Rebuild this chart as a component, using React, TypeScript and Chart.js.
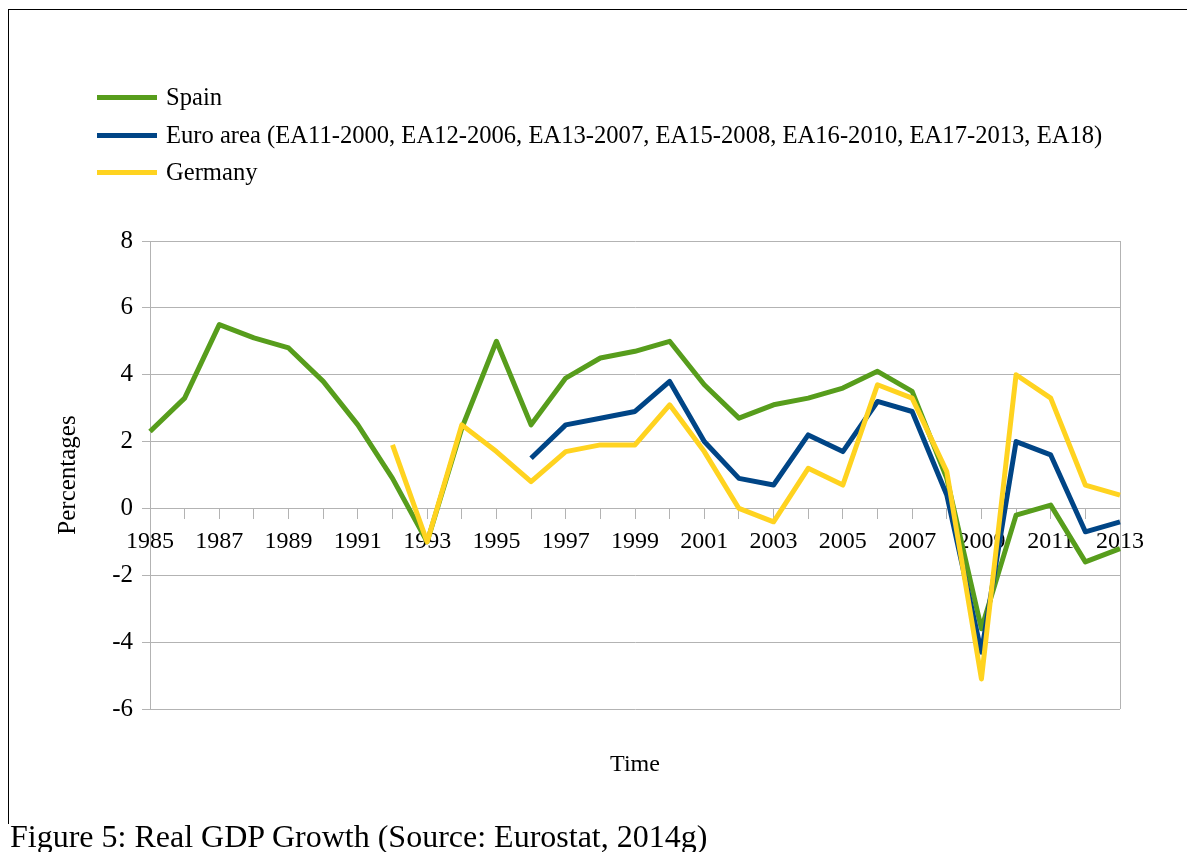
import React, { useEffect, useRef } from "react";
import { Chart, registerables } from "chart.js";

Chart.register(...registerables);

const years: string[] = [
  "1985", "1986", "1987", "1988", "1989", "1990", "1991", "1992", "1993", "1994",
  "1995", "1996", "1997", "1998", "1999", "2000", "2001", "2002", "2003", "2004",
  "2005", "2006", "2007", "2008", "2009", "2010", "2011", "2012", "2013",
];

const spain: (number | null)[] = [
  2.3, 3.3, 5.5, 5.1, 4.8, 3.8, 2.5, 0.9, -1.0, 2.4,
  5.0, 2.5, 3.9, 4.5, 4.7, 5.0, 3.7, 2.7, 3.1, 3.3,
  3.6, 4.1, 3.5, 0.9, -3.6, -0.2, 0.1, -1.6, -1.2,
];

const euroArea: (number | null)[] = [
  null, null, null, null, null, null, null, null, null, null,
  null, 1.5, 2.5, 2.7, 2.9, 3.8, 2.0, 0.9, 0.7, 2.2,
  1.7, 3.2, 2.9, 0.4, -4.3, 2.0, 1.6, -0.7, -0.4,
];

const germany: (number | null)[] = [
  null, null, null, null, null, null, null, 1.9, -1.0, 2.5,
  1.7, 0.8, 1.7, 1.9, 1.9, 3.1, 1.7, 0.0, -0.4, 1.2,
  0.7, 3.7, 3.3, 1.1, -5.1, 4.0, 3.3, 0.7, 0.4,
];

const seriesNames: string[] = [
  "Spain",
  "Euro area (EA11-2000, EA12-2006, EA13-2007, EA15-2008, EA16-2010, EA17-2013, EA18)",
  "Germany",
];
const seriesColors: string[] = ["#579d1c", "#004586", "#ffd320"];

const yTitle = "Percentages";
const xTitle = "Time";
const caption = "Figure 5: Real GDP Growth (Source: Eurostat, 2014g)";

const FONT = "'Liberation Serif', 'Times New Roman', serif";
const GRID = "#b3b3b3";

export default function App() {
  const canvasRef = useRef<HTMLCanvasElement | null>(null);

  useEffect(() => {
    if (!canvasRef.current) return;
    const lastIndex = years.length - 1;
    const chart = new Chart(canvasRef.current, {
      type: "line",
      data: {
        labels: years,
        datasets: [
          { label: seriesNames[0], data: spain, borderColor: seriesColors[0], backgroundColor: seriesColors[0], order: 2 },
          { label: seriesNames[1], data: euroArea, borderColor: seriesColors[1], backgroundColor: seriesColors[1], order: 1 },
          { label: seriesNames[2], data: germany, borderColor: seriesColors[2], backgroundColor: seriesColors[2], order: 0 },
        ].map((d) => ({
          ...d,
          borderWidth: 5,
          pointRadius: 0,
          pointHoverRadius: 0,
          tension: 0,
          spanGaps: false,
          borderJoinStyle: "round" as const,
          fill: false,
        })),
      },
      options: {
        responsive: false,
        animation: false,
        events: [],
        layout: { padding: { left: 50, right: 67, top: 241, bottom: 72.6 } },
        plugins: {
          legend: { display: false },
          tooltip: { enabled: false },
          title: { display: false },
        },
        scales: {
          x: {
            type: "category",
            position: { y: 0 } as any,
            grid: {
              drawOnChartArea: true,
              drawTicks: true,
              tickLength: 10,
              tickColor: GRID,
              color: (ctx: any) => (ctx.index === lastIndex ? GRID : "rgba(0,0,0,0)"),
              lineWidth: 1,
            },
            border: { display: true, color: GRID, width: 1 },
            ticks: {
              autoSkip: false,
              maxRotation: 0,
              minRotation: 0,
              padding: 9,
              color: "#000",
              font: { family: FONT, size: 24 },
              callback: (_v: any, i: number) => (i % 2 === 0 ? years[i] : ""),
            },
          },
          xt: {
            type: "category",
            position: "bottom",
            labels: years,
            grid: { display: false },
            border: { display: false },
            ticks: { display: false },
            title: {
              display: true,
              text: xTitle,
              color: "#000",
              font: { family: FONT, size: 24 },
              padding: { top: 0, bottom: 0 },
            },
            afterFit: (s: any) => {
              s.height = 70.4;
            },
          },
          y: {
            type: "linear",
            position: "left",
            min: -6,
            max: 8,
            ticks: {
              stepSize: 2,
              padding: 9,
              color: "#000",
              font: { family: FONT, size: 25 },
            },
            grid: { color: GRID, lineWidth: 1, tickLength: 8, tickColor: GRID },
            border: { display: true, color: GRID, width: 1 },
            title: {
              display: true,
              text: yTitle,
              color: "#000",
              font: { family: FONT, size: 25 },
              padding: { top: 3, bottom: 0 },
            },
            afterFit: (s: any) => {
              s.width = 100;
            },
          },
        },
      } as any,
    });
    return () => chart.destroy();
  }, []);

  const legendTops = [97, 135, 172];

  return (
    <div style={{ position: "absolute", left: 0, top: 0, width: 1187, height: 852, overflow: "hidden", background: "#fff", fontFamily: FONT }}>
      <div style={{ position: "absolute", left: 8, top: 9, width: 1300, height: 814, borderTop: "1px solid #000", borderLeft: "1px solid #000" }} />
      <canvas ref={canvasRef} width={1187} height={852} style={{ position: "absolute", left: 0, top: 0, width: 1187, height: 852 }} />
      {seriesNames.map((name, i) => (
        <div key={name}>
          <div style={{ position: "absolute", left: 97, top: legendTops[i] - 2.5, width: 60, height: 5, background: seriesColors[i] }} />
          <div style={{ position: "absolute", left: 166, top: legendTops[i] - 14, height: 28, lineHeight: "28px", fontSize: 24.6, color: "#000", whiteSpace: "nowrap" }}>{name}</div>
        </div>
      ))}
      <div style={{ position: "absolute", left: 10, top: 820, fontSize: 32, lineHeight: "32px", color: "#000", whiteSpace: "nowrap" }}>{caption}</div>
    </div>
  );
}
